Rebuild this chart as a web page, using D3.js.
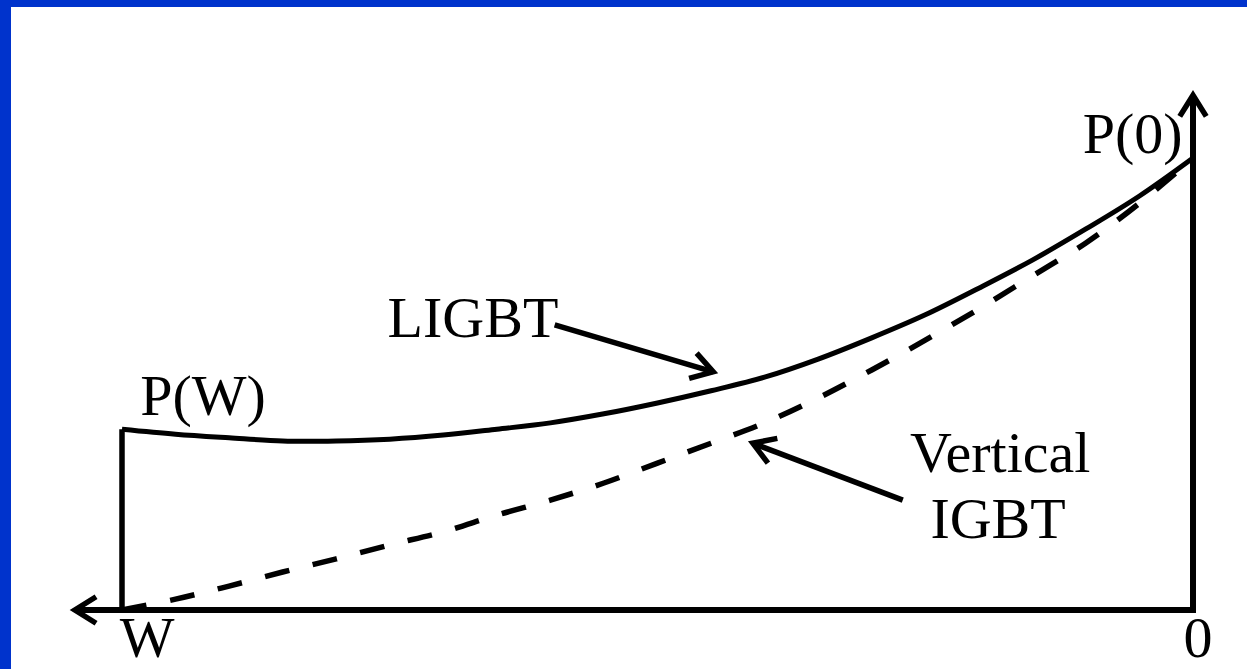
<!DOCTYPE html>
<html>
<head>
<meta charset="utf-8">
<script src="https://cdn.jsdelivr.net/npm/d3@7"></script>
<style>
  html, body { margin: 0; padding: 0; background: #fff; }
  svg { display: block; }
  text { font-family: "Liberation Serif", "Times New Roman", serif; fill: #000; }
</style>
</head>
<body>
<svg id="chart" width="1247" height="669"></svg>
<script>
// Distance from the surface, as a fraction of the drift width W (0 = surface, 1 = W)
const position = [0, 0.05, 0.10, 0.15, 0.20, 0.25, 0.30, 0.35, 0.40, 0.45, 0.50,
                  0.55, 0.60, 0.65, 0.70, 0.75, 0.80, 0.85, 0.90, 0.95, 1.00];

// Normalised carrier density P(x)/P(0)
const ligbt = [1.000, 0.916, 0.843, 0.774, 0.712, 0.653, 0.602, 0.555, 0.515, 0.485, 0.458,
               0.434, 0.414, 0.400, 0.387, 0.378, 0.374, 0.374, 0.381, 0.389, 0.400];
const verticalIgbt = [1.000, 0.900, 0.812, 0.739, 0.666, 0.597, 0.531, 0.469, 0.414, 0.369, 0.325,
                      0.281, 0.243, 0.210, 0.173, 0.144, 0.113, 0.084, 0.053, 0.024, 0.000];

// Axis end labels
const axisLabels = [{ text: "W", d: 1.0, dx: 25 }, { text: "0", d: 0.0, dx: 5 }];

const svg = d3.select("#chart");
const W = 1247, H = 669;

// Slide frame: blue bands along the top and left edges
svg.append("rect").attr("x", 0).attr("y", 0).attr("width", W).attr("height", H).attr("fill", "#fff");
svg.append("rect").attr("x", 0).attr("y", 0).attr("width", W).attr("height", 7).attr("fill", "#0033cc");
svg.append("rect").attr("x", 0).attr("y", 0).attr("width", 11).attr("height", H).attr("fill", "#0033cc");

// x runs from the surface (right) toward W (left)
const x = d3.scaleLinear().domain([0, 1]).range([1193, 122]);
const y = d3.scaleLinear().domain([0, 1]).range([610, 158]);

const black = "#000";

// Open chevron arrowhead at a tip, pointing along the direction from (fx,fy) to tip
function arrowHead(g, tx, ty, fx, fy, len = 25, half = 32) {
  const back = Math.atan2(fy - ty, fx - tx);
  const a = half * Math.PI / 180;
  const p1 = [tx + len * Math.cos(back + a), ty + len * Math.sin(back + a)];
  const p2 = [tx + len * Math.cos(back - a), ty + len * Math.sin(back - a)];
  g.append("path")
    .attr("d", `M${p1[0]},${p1[1]}L${tx},${ty}L${p2[0]},${p2[1]}`)
    .attr("fill", "none").attr("stroke", black).attr("stroke-width", 5.5)
    .attr("stroke-linejoin", "miter").attr("stroke-linecap", "butt");
}

// Axes: horizontal axis extends past W with an arrow, vertical axis at the surface
const axes = svg.append("g");
const xEnd = 1.044, yEnd = 1.139;
axes.append("path")
  .attr("d", `M${x(xEnd)},${y(0)}L${x(0)},${y(0)}L${x(0)},${y(yEnd)}`)
  .attr("fill", "none").attr("stroke", black).attr("stroke-width", 6)
  .attr("stroke-linejoin", "miter");
arrowHead(axes, x(xEnd), y(0), x(0), y(0));
arrowHead(axes, x(0), y(yEnd), x(0), y(0));

// Boundary at W up to P(W)
svg.append("line")
  .attr("x1", x(1)).attr("y1", y(0))
  .attr("x2", x(1)).attr("y2", y(ligbt[ligbt.length - 1]))
  .attr("stroke", black).attr("stroke-width", 5.5);

const line = d3.line()
  .x(d => x(d[0]))
  .y(d => y(d[1]))
  .curve(d3.curveCatmullRom.alpha(0.5));

// Vertical IGBT profile (dashed), drawn from W toward the surface
const vData = position.map((p, i) => [p, verticalIgbt[i]]).reverse();
svg.append("path")
  .attr("d", line(vData))
  .attr("fill", "none").attr("stroke", black).attr("stroke-width", 5.5)
  .attr("stroke-dasharray", "25 24");

// LIGBT profile (solid)
const lData = position.map((p, i) => [p, ligbt[i]]).reverse();
svg.append("path")
  .attr("d", line(lData))
  .attr("fill", "none").attr("stroke", black).attr("stroke-width", 5)
  .attr("stroke-linejoin", "round");

// Text labels
const fs = 58;
function label(txt, d, p, anchor = "start") {
  svg.append("text").attr("x", x(d)).attr("y", y(p))
    .attr("font-size", fs).attr("text-anchor", anchor).text(txt);
}
label("P(0)", 0.103, 1.011);
label("P(W)", 0.983, 0.431);
label("LIGBT", 0.752, 0.604);
label("Vertical", 0.180, 0.305, "middle");
label("IGBT", 0.182, 0.159, "middle");

axisLabels.forEach(a => {
  svg.append("text").attr("x", x(a.d) + a.dx).attr("y", y(-0.103))
    .attr("font-size", fs).attr("text-anchor", "middle").text(a.text);
});

// Callout arrows
const callouts = [
  { from: [0.596, 0.631], to: [0.448, 0.527] },
  { from: [0.271, 0.243], to: [0.411, 0.369] }
];
callouts.forEach(c => {
  const fx = x(c.from[0]), fy = y(c.from[1]), tx = x(c.to[0]), ty = y(c.to[1]);
  svg.append("line").attr("x1", fx).attr("y1", fy).attr("x2", tx).attr("y2", ty)
    .attr("stroke", black).attr("stroke-width", 5.5);
  arrowHead(svg, tx, ty, fx, fy);
});
</script>
</body>
</html>
